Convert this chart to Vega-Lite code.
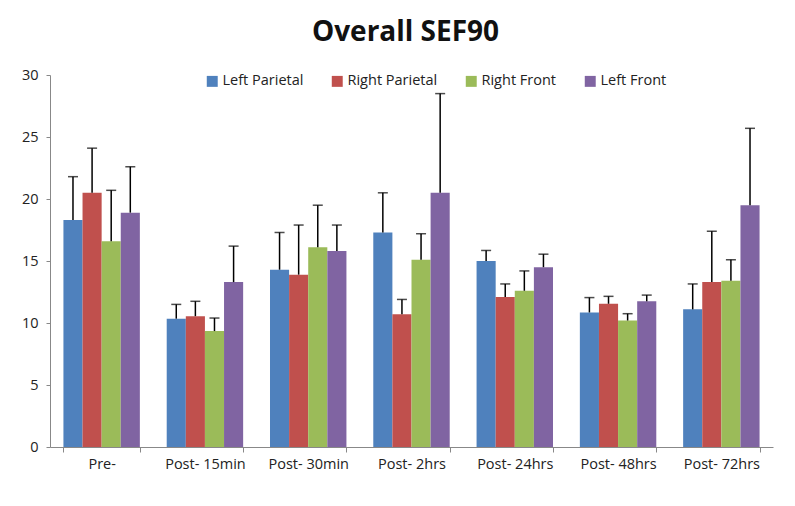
{
  "$schema": "https://vega.github.io/schema/vega-lite/v6.json",
  "width": 723,
  "height": 372,
  "autosize": {"type": "none"},
  "padding": {"left": 50, "top": 75, "right": 22, "bottom": 59},
  "background": "white",
  "title": {"text": "Overall SEF90", "fontSize": 28, "font": "Open Sans", "fontWeight": "bold", "color": "#111", "offset": 20, "anchor": "middle", "dx": -6},
  "data": {"values": [
    {"cat": "Pre-", "series": "Left Parietal", "value": 18.3, "err": 21.8},
    {"cat": "Pre-", "series": "Right Parietal", "value": 20.5, "err": 24.1},
    {"cat": "Pre-", "series": "Right Front", "value": 16.6, "err": 20.7},
    {"cat": "Pre-", "series": "Left Front", "value": 18.9, "err": 22.6},
    {"cat": "Post- 15min", "series": "Left Parietal", "value": 10.35, "err": 11.5},
    {"cat": "Post- 15min", "series": "Right Parietal", "value": 10.55, "err": 11.75},
    {"cat": "Post- 15min", "series": "Right Front", "value": 9.35, "err": 10.4},
    {"cat": "Post- 15min", "series": "Left Front", "value": 13.3, "err": 16.2},
    {"cat": "Post- 30min", "series": "Left Parietal", "value": 14.3, "err": 17.3},
    {"cat": "Post- 30min", "series": "Right Parietal", "value": 13.9, "err": 17.9},
    {"cat": "Post- 30min", "series": "Right Front", "value": 16.1, "err": 19.5},
    {"cat": "Post- 30min", "series": "Left Front", "value": 15.8, "err": 17.9},
    {"cat": "Post- 2hrs", "series": "Left Parietal", "value": 17.3, "err": 20.5},
    {"cat": "Post- 2hrs", "series": "Right Parietal", "value": 10.7, "err": 11.9},
    {"cat": "Post- 2hrs", "series": "Right Front", "value": 15.1, "err": 17.2},
    {"cat": "Post- 2hrs", "series": "Left Front", "value": 20.5, "err": 28.5},
    {"cat": "Post- 24hrs", "series": "Left Parietal", "value": 15.0, "err": 15.85},
    {"cat": "Post- 24hrs", "series": "Right Parietal", "value": 12.1, "err": 13.15},
    {"cat": "Post- 24hrs", "series": "Right Front", "value": 12.6, "err": 14.2},
    {"cat": "Post- 24hrs", "series": "Left Front", "value": 14.5, "err": 15.55},
    {"cat": "Post- 48hrs", "series": "Left Parietal", "value": 10.85, "err": 12.05},
    {"cat": "Post- 48hrs", "series": "Right Parietal", "value": 11.55, "err": 12.15},
    {"cat": "Post- 48hrs", "series": "Right Front", "value": 10.2, "err": 10.75},
    {"cat": "Post- 48hrs", "series": "Left Front", "value": 11.75, "err": 12.25},
    {"cat": "Post- 72hrs", "series": "Left Parietal", "value": 11.1, "err": 13.15},
    {"cat": "Post- 72hrs", "series": "Right Parietal", "value": 13.3, "err": 17.4},
    {"cat": "Post- 72hrs", "series": "Right Front", "value": 13.4, "err": 15.1},
    {"cat": "Post- 72hrs", "series": "Left Front", "value": 19.5, "err": 25.7}
  ]},
  "encoding": {
    "x": {
      "field": "cat", "type": "nominal",
      "sort": ["Pre-", "Post- 15min", "Post- 30min", "Post- 2hrs", "Post- 24hrs", "Post- 48hrs", "Post- 72hrs"],
      "scale": {"paddingInner": 0.26, "paddingOuter": 0.13},
      "axis": {"title": null, "labelAngle": 0, "tickBand": "extent", "labelFontSize": 14.5, "labelFont": "Open Sans", "labelColor": "#222", "domainColor": "#888", "tickColor": "#888", "tickSize": 5, "labelPadding": 5}
    },
    "xOffset": {
      "field": "series", "type": "nominal",
      "sort": ["Left Parietal", "Right Parietal", "Right Front", "Left Front"],
      "scale": {"paddingInner": 0}
    }
  },
  "layer": [
    {
      "mark": {"type": "bar"},
      "encoding": {
        "y": {
          "field": "value", "type": "quantitative",
          "scale": {"domain": [0, 30], "nice": false},
          "axis": {"title": null, "values": [0, 5, 10, 15, 20, 25, 30], "grid": false, "labelFontSize": 14.5, "labelFont": "Open Sans", "labelColor": "#222", "domainColor": "#888", "tickColor": "#888", "tickSize": 4, "labelPadding": 8}
        },
        "color": {
          "field": "series", "type": "nominal",
          "scale": {"domain": ["Left Parietal", "Right Parietal", "Right Front", "Left Front"], "range": ["#4F81BD", "#C0504D", "#9BBB59", "#8064A2"]},
          "legend": {"title": null, "orient": "none", "direction": "horizontal", "legendX": 155, "legendY": -1, "symbolType": "square", "symbolSize": 120, "symbolStrokeWidth": 0, "labelFontSize": 14.5, "labelFont": "Open Sans", "labelColor": "#222", "columnPadding": 26, "labelOffset": 3}
        }
      }
    },
    {
      "mark": {"type": "rule", "color": "black", "strokeWidth": 1.5},
      "encoding": {
        "y": {"field": "value", "type": "quantitative"},
        "y2": {"field": "err"}
      }
    },
    {
      "mark": {"type": "tick", "color": "black", "thickness": 1.5, "size": 10},
      "encoding": {
        "y": {"field": "err", "type": "quantitative"}
      }
    }
  ],
  "config": {"view": {"stroke": null}}
}
